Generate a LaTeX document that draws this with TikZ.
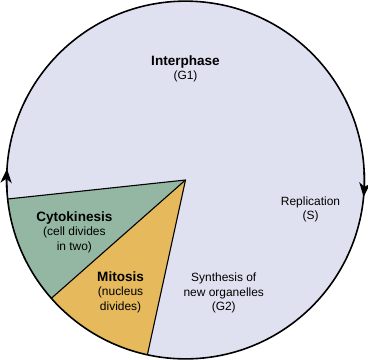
\documentclass[tikz,border=0pt]{standalone}
\usepackage{fontspec}
\setmainfont{Liberation Sans}
\usepackage{xcolor}
\usetikzlibrary{arrows.meta}
\definecolor{phasebg}{RGB}{224,225,240}
\definecolor{cytofill}{RGB}{147,183,163}
\definecolor{mitofill}{RGB}{229,185,92}
\newcommand{\phasettl}[1]{{\fontsize{13.6}{14.5}\selectfont\bfseries #1}}
\begin{document}
\begin{tikzpicture}[
  rim/.style={line width=1.6pt},
  slice/.style={draw, line width=1.1pt, line join=round},
  lbl/.style={align=center, font=\fontsize{12}{14.5}\selectfont, inner sep=0pt},
  cyc/.style={rim, -{Stealth[length=5mm, width=4mm, inset=1.5mm]}}]
\useasboundingbox (-6.544,-6.315) rectangle (6.438,6.350);
\def\R{6.31}
\coordinate (c) at (0,0);
\coordinate (p1) at (186.1:\R);
\coordinate (p2) at (221.4:\R);
\coordinate (p3) at (257.7:\R);
% the cycle and its two division phases
\fill[phasebg] (c) circle (\R);
\fill[cytofill] (c) -- (p1) arc[start angle=186.1, end angle=221.4, radius=\R] -- cycle;
\fill[mitofill] (c) -- (p2) arc[start angle=221.4, end angle=257.7, radius=\R] -- cycle;
\draw[slice] (p1) -- (c) -- (p3);
\draw[slice] (c) -- (p2);
\draw[rim] (c) circle (\R);
\draw[cyc] (184:\R) arc[start angle=184, end angle=176.4, radius=\R];
\draw[cyc] (3:\R) arc[start angle=3, end angle=-5.4, radius=\R];
% labels
\node[lbl] (g1) at (0,3.92) {\phasettl{Interphase}\\(G1)};
\node[lbl] (s) at (4.41,-1.04) {Replication\\(S)};
\node[lbl] (g2) at (1.35,-3.99) {Synthesis of\\new organelles\\(G2)};
\node[lbl] (cyto) at (-3.92,-1.83) {\phasettl{Cytokinesis}\\(cell divides\\in two)};
\node[lbl] (mito) at (-2.29,-3.95) {\phasettl{Mitosis}\\(nucleus\\divides)};
\end{tikzpicture}
\end{document}
